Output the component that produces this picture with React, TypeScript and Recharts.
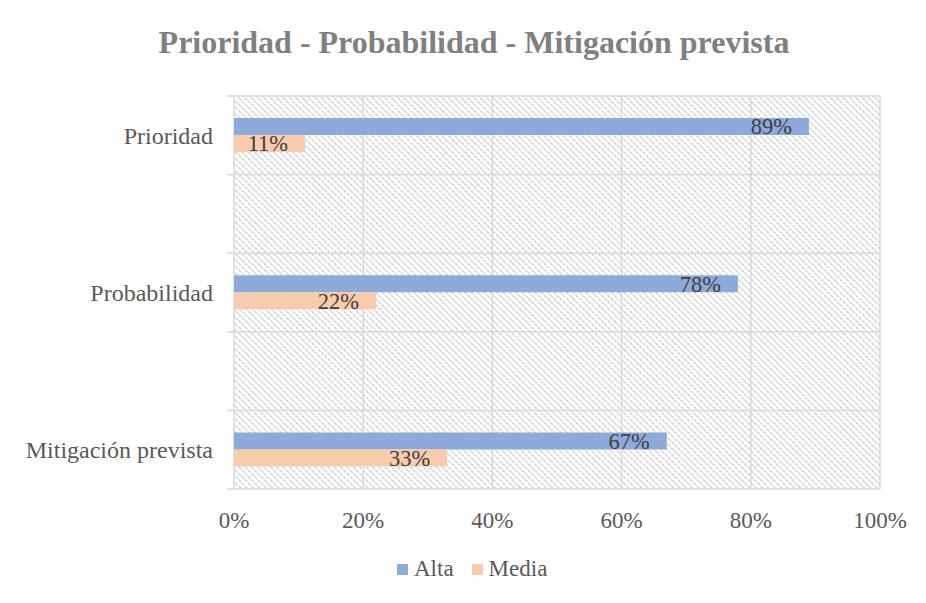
import { BarChart, Bar, XAxis, YAxis, CartesianGrid, LabelList } from 'recharts'

const categories = ['Prioridad', '', 'Probabilidad', '', 'Mitigación prevista']
const alta = [89, null, 78, null, 67]
const media = [11, null, 22, null, 33]
const xTicks = [0, 20, 40, 60, 80, 100]

const series = [
  { key: 'alta', name: 'Alta', color: '#8eaadb' },
  { key: 'media', name: 'Media', color: '#f8cbad' },
]

const FONT = '"Liberation Serif", "Times New Roman", serif'
const CHART_W = 918
const CHART_H = 540
const MARGIN = { top: 90, right: 46, bottom: 17, left: 0 }
const Y_W = 226
const X_H = 40
const PLOT_H = CHART_H - MARGIN.top - MARGIN.bottom - X_H

const data = categories.map((name, i) => ({ name, alta: alta[i], media: media[i] }))

const pct = (v: unknown) => (v == null ? '' : `${v}%`)

function CategoryTick(props: any) {
  const { x, y, payload, index } = props
  const band = PLOT_H / categories.length
  const left = MARGIN.left + Y_W
  const top = y - band / 2
  return (
    <g>
      <line x1={left - 7} x2={left} y1={top} y2={top} stroke="#d9d9d9" strokeWidth={1.5} />
      {index === categories.length - 1 && (
        <line x1={left - 7} x2={left} y1={y + band / 2} y2={y + band / 2} stroke="#d9d9d9" strokeWidth={1.5} />
      )}
      <text x={x} y={y} dy="0.35em" textAnchor="end" fill="#595959" fontSize={24} fontFamily={FONT}>
        {payload.value}
      </text>
    </g>
  )
}

export default function App() {
  return (
    <div
      style={{
        position: 'relative',
        margin: '-3px 0 0 -1px',
        width: 919,
        height: 590,
        boxSizing: 'border-box',
        borderTop: '1px solid #d9d9d9',
        borderLeft: '1px solid #d9d9d9',
        fontFamily: FONT,
        background: '#fff',
      }}
    >
      <svg width={0} height={0} style={{ position: 'absolute' }}>
        <defs>
          <pattern id="hatch" width={4.5} height={4.5} patternUnits="userSpaceOnUse" patternTransform="rotate(45)">
            <rect width={4.5} height={4.5} fill="#fff" />
            <line x1={0} y1={0.75} x2={4.5} y2={0.75} stroke="#d4d4d4" strokeWidth={1.5} strokeDasharray="2 0.8" />
          </pattern>
        </defs>
      </svg>

      <div
        style={{
          position: 'absolute',
          left: 466,
          top: 18,
          transform: 'translateX(-50%)',
          whiteSpace: 'nowrap',
          fontSize: 32,
          lineHeight: 1.15,
          fontWeight: 'bold',
          color: '#808080',
        }}
      >
        Prioridad - Probabilidad - Mitigación prevista
      </div>

      <div style={{ position: 'absolute', left: 0, top: 0 }}>
        <BarChart
          width={CHART_W}
          height={CHART_H}
          data={data}
          layout="vertical"
          margin={MARGIN}
          barGap={0}
        >
          <CartesianGrid
            fill="url(#hatch)"
            stroke="#d9d9d9"
            strokeWidth={1.5}
            horizontalCoordinatesGenerator={({ offset }: any) =>
              categories.concat(['']).map((_, i) => offset.top + (i * offset.height) / categories.length)
            }
          />
          <XAxis
            type="number"
            domain={[0, 100]}
            ticks={xTicks}
            tickFormatter={pct}
            axisLine={false}
            tickLine={false}
            tickMargin={17}
            height={X_H}
            interval={0}
            tick={{ fill: '#595959', fontSize: 23, fontFamily: FONT }}
          />
          <YAxis
            type="category"
            dataKey="name"
            width={Y_W}
            axisLine={false}
            tickLine={false}
            tickMargin={15}
            interval={0}
            tick={<CategoryTick />}
          />
          {series.map((s) => (
            <Bar key={s.key} dataKey={s.key} name={s.name} fill={s.color} barSize={17} isAnimationActive={false}>
              <LabelList
                dataKey={s.key}
                position="insideRight"
                offset={17}
                formatter={pct}
                fill="#404040"
                fontSize={22.5}
                fontFamily={FONT}
              />
            </Bar>
          ))}
        </BarChart>
      </div>

      <div
        style={{
          position: 'absolute',
          left: 389,
          top: 550,
          display: 'flex',
          gap: 18,
          fontSize: 23,
          lineHeight: 1.15,
          color: '#595959',
        }}
      >
        {series.map((s) => (
          <div key={s.key} style={{ display: 'flex', alignItems: 'center', gap: 6 }}>
            <span style={{ width: 11, height: 11, background: s.color, display: 'inline-block' }} />
            <span>{s.name}</span>
          </div>
        ))}
      </div>
    </div>
  )
}
